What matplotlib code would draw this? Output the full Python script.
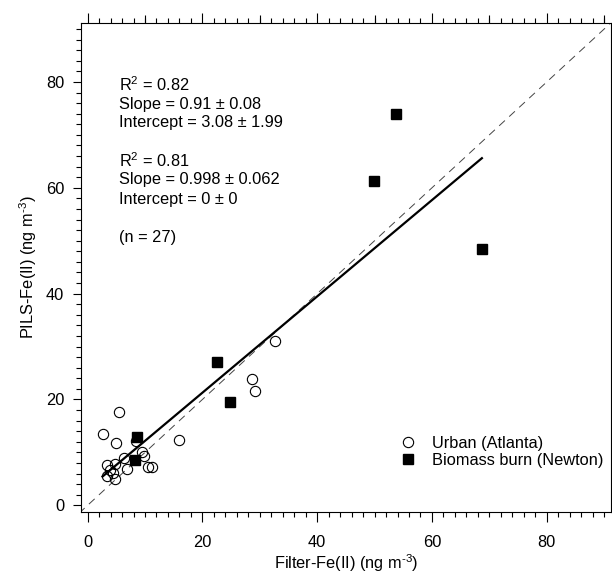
import numpy as np
import matplotlib
matplotlib.use('Agg')
import matplotlib.pyplot as plt
from matplotlib.ticker import MultipleLocator, FixedLocator

plt.rcParams['font.family'] = ['Liberation Sans', 'DejaVu Sans']
plt.rcParams['mathtext.fontset'] = 'custom'
plt.rcParams['mathtext.rm'] = 'Liberation Sans'
plt.rcParams['mathtext.it'] = 'Liberation Sans:italic'
plt.rcParams['font.size'] = 11.8

# Urban (Atlanta) - open circles
urban_x = [32.6, 28.7, 29.2, 15.9, 5.5, 2.6, 5.0, 8.4, 9.5, 9.8,
           6.3, 4.8, 3.4, 6.9, 10.5, 11.3, 4.5, 3.4, 4.7, 3.9]
urban_y = [31.1, 23.8, 21.6, 12.4, 17.7, 13.5, 11.8, 12.2, 10.1, 9.4,
           8.9, 7.9, 7.6, 6.8, 7.2, 7.3, 6.2, 5.6, 5.0, 6.6]

# Biomass burn (Newton) - filled squares
biomass_x = [22.6, 24.8, 8.6, 8.3, 53.7, 49.9, 68.7]
biomass_y = [27.1, 19.5, 12.9, 8.6, 74.0, 61.2, 48.5]

# fit results
fit_slope = 0.91
fit_intercept = 3.08

stats_lines = [r'R$^2$ = 0.82', 'Slope = 0.91 ± 0.08', 'Intercept = 3.08 ± 1.99',
               r'R$^2$ = 0.81', 'Slope = 0.998 ± 0.062', 'Intercept = 0 ± 0',
               '(n = 27)']
stats_y = [79.5, 75.8, 72.3, 65.1, 61.5, 57.8, 50.6]

lim = (-1.2, 91.2)

fig = plt.figure(figsize=(6.12, 5.73), dpi=100)
ax = fig.add_axes([0.1319, 0.1070, 0.8665, 0.8534])

# 1:1 line
ax.plot([-5, 100], [-5, 100], color='#444444', lw=0.7, ls=(0, (8, 6)), zorder=1)

ax.plot(urban_x, urban_y, 'o', ms=7.4, mfc='none', mec='black', mew=0.8,
        label='Urban (Atlanta)', zorder=2)
ax.plot(biomass_x, biomass_y, 's', ms=7.0, mfc='black', mec='black',
        label='Biomass burn (Newton)', zorder=3)

allx = np.array(urban_x + biomass_x)
fx = np.array([allx.min(), allx.max()])
ax.plot(fx, fit_intercept + fit_slope * fx, color='black', lw=1.6, zorder=4)

for s, yy in zip(stats_lines, stats_y):
    ax.text(5.5, yy, s, ha='left', va='center', fontsize=11.8)

ax.set_xlim(lim)
ax.set_ylim(lim)

for sp in ax.spines.values():
    sp.set_linewidth(0.8)

ax.xaxis.set_major_locator(MultipleLocator(20))
ax.xaxis.set_minor_locator(MultipleLocator(2))
ax.yaxis.set_major_locator(MultipleLocator(20))
ax.yaxis.set_minor_locator(MultipleLocator(2))
ax.tick_params(which='both', direction='out', width=0.8, top=True, right=True)
ax.tick_params(which='major', length=7.5, labelsize=11.8)
ax.tick_params(axis='y', which='major', length=6, pad=6)
ax.tick_params(axis='x', which='major', pad=9)
ax.tick_params(which='minor', length=3.5)

# medium ticks at 10s on top axis
top = ax.secondary_xaxis('top')
top.xaxis.set_major_locator(FixedLocator([10, 30, 50, 70, 90]))
top.tick_params(which='major', direction='out', length=5.5, width=0.8, labeltop=False)
top.spines['top'].set_visible(False)

ax.set_xlabel(r'Filter-Fe(II) (ng m$^{\text{-3}}$)', fontsize=11.8, labelpad=2)
ax.set_ylabel(r'PILS-Fe(II) (ng m$^{\text{-3}}$)', fontsize=11.8, labelpad=5)

ax.legend(loc='lower right', bbox_to_anchor=(0.985, 0.09), frameon=False,
          handlelength=1.0, handletextpad=0.95, labelspacing=0.1,
          borderpad=0, borderaxespad=0, fontsize=11.8)

fig.savefig('out.png', dpi=100)
